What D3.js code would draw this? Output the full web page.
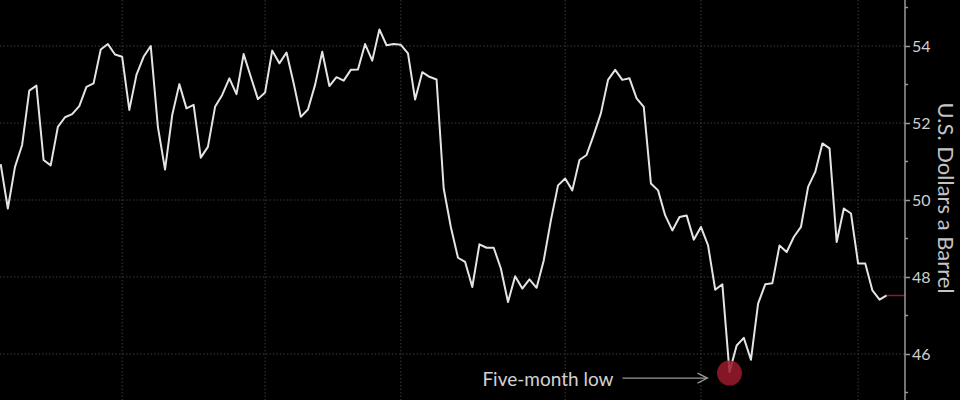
<!DOCTYPE html>
<html>
<head>
<meta charset="utf-8">
<script src="https://cdn.jsdelivr.net/npm/d3@7"></script>
<style>
  html, body { margin: 0; padding: 0; background: #000; }
  svg { display: block; }
  text { font-family: Lato, "Open Sans", sans-serif; }
</style>
</head>
<body>
<div id="chart"></div>
<script>
// daily closes, one per trading day (index 0 .. 124)
const prices = [
  50.93, 49.78, 50.86, 51.43, 52.84, 52.97, 51.04, 50.90, 51.90, 52.15,
  52.23, 52.44, 52.94, 53.03, 53.91, 54.05, 53.78, 53.72, 52.34, 53.25,
  53.72, 54.00, 51.90, 50.79, 52.20, 53.01, 52.38, 52.47, 51.10, 51.38,
  52.42, 52.73, 53.16, 52.75, 53.79, 53.20, 52.62, 52.79, 53.88, 53.55,
  53.83, 53.03, 52.16, 52.35, 52.99, 53.85, 52.96, 53.19, 53.10, 53.38,
  53.39, 54.05, 53.62, 54.43, 54.02, 54.05, 54.03, 53.81, 52.61, 53.32,
  53.20, 53.13, 50.30, 49.30, 48.50, 48.39, 47.74, 48.85, 48.76, 48.76,
  48.22, 47.35, 48.02, 47.70, 47.94, 47.72, 48.43, 49.47, 50.38, 50.56,
  50.25, 51.04, 51.17, 51.69, 52.25, 53.12, 53.38, 53.12, 53.16, 52.64,
  52.42, 50.43, 50.25, 49.60, 49.21, 49.56, 49.60, 48.97, 49.30, 48.82,
  47.67, 47.81, 45.53, 46.22, 46.42, 45.85, 47.31, 47.81, 47.84, 48.82,
  48.65, 49.04, 49.30, 50.34, 50.73, 51.47, 51.34, 48.91, 49.78, 49.65,
  48.35, 48.35, 47.65, 47.41, 47.52
];
// month boundaries, as trading-day index
const monthGrid = [17, 37, 56, 79, 98, 120];
const majorTicks = [46, 48, 50, 52, 54];
const minorTicks = [45, 47, 49, 51, 53, 55];
const lowIndex = 102;
const lowLabel = 'Five-month low';
const yTitle = 'U.S. Dollars a Barrel';

const W = 960, H = 400, axisX = 905;

const svg = d3.select('#chart').append('svg')
  .attr('width', W).attr('height', H)
  .style('background', '#000');

const x = d3.scaleLinear().domain([0, prices.length - 1]).range([0.7, 886.7]);
const y = d3.scaleLinear().domain([45, 55]).range([392.5, 7.5]);

// grid
svg.append('g').selectAll('line').data(majorTicks).join('line')
  .attr('x1', 0).attr('x2', axisX)
  .attr('y1', d => y(d)).attr('y2', d => y(d))
  .attr('stroke', '#3a3a3a').attr('stroke-dasharray', '1.5,2');

svg.append('g').selectAll('line').data(monthGrid).join('line')
  .attr('x1', d => x(d)).attr('x2', d => x(d))
  .attr('y1', 0).attr('y2', H)
  .attr('stroke', '#3a3a3a').attr('stroke-dasharray', '1.5,2');

// price line
const line = d3.line().x((d, i) => x(i)).y(d => y(d));
svg.append('path').datum(prices)
  .attr('d', line)
  .attr('fill', 'none')
  .attr('stroke', '#e4e4e4')
  .attr('stroke-width', 2)
  .attr('stroke-linejoin', 'round');

// last price marker
const last = prices[prices.length - 1];
svg.append('line')
  .attr('x1', x(prices.length - 1)).attr('x2', axisX)
  .attr('y1', y(last)).attr('y2', y(last))
  .attr('stroke', '#8e1b22').attr('stroke-width', 1.5);

// low annotation
const lx = x(lowIndex), ly = y(prices[lowIndex]);
svg.append('circle')
  .attr('cx', lx).attr('cy', ly + 1).attr('r', 12.5)
  .attr('fill', '#9c1a2c').attr('opacity', 0.85);

const ay = ly + 6;
svg.append('line')
  .attr('x1', lx - 107).attr('x2', lx - 22)
  .attr('y1', ay).attr('y2', ay)
  .attr('stroke', '#9a9a9a').attr('stroke-width', 1.2);
svg.append('path')
  .attr('d', `M${lx - 32},${ay - 5}L${lx - 22},${ay}L${lx - 32},${ay + 5}`)
  .attr('fill', 'none').attr('stroke', '#9a9a9a').attr('stroke-width', 1.2);

svg.append('text')
  .attr('x', lx - 116).attr('y', ay + 8)
  .attr('text-anchor', 'end')
  .attr('fill', '#d2d2d2')
  .attr('font-size', 19)
  .text(lowLabel);

// right axis
svg.append('line')
  .attr('x1', axisX).attr('x2', axisX).attr('y1', 0).attr('y2', H)
  .attr('stroke', '#9a9a9a').attr('stroke-width', 1.5);

const axis = svg.append('g')
  .attr('transform', `translate(${axisX},0)`)
  .call(d3.axisRight(y).tickValues(majorTicks).tickSize(5).tickPadding(2).tickFormat(d3.format('d')));
axis.select('.domain').remove();
axis.selectAll('line').attr('stroke', '#9a9a9a').attr('stroke-width', 1.5);
axis.selectAll('text')
  .attr('fill', '#cfcfcf')
  .attr('font-size', 16)
  .attr('font-family', 'Lato, sans-serif');

svg.append('g').selectAll('line').data(minorTicks).join('line')
  .attr('x1', axisX).attr('x2', axisX + 3)
  .attr('y1', d => y(d)).attr('y2', d => y(d))
  .attr('stroke', '#9a9a9a').attr('stroke-width', 1.5);

svg.append('text')
  .attr('transform', `translate(946,${y(50.05)}) rotate(90)`)
  .attr('text-anchor', 'middle')
  .attr('dy', '0.35em')
  .attr('fill', '#c4c4c4')
  .attr('font-size', 22)
  .text(yTitle);
</script>
</body>
</html>
